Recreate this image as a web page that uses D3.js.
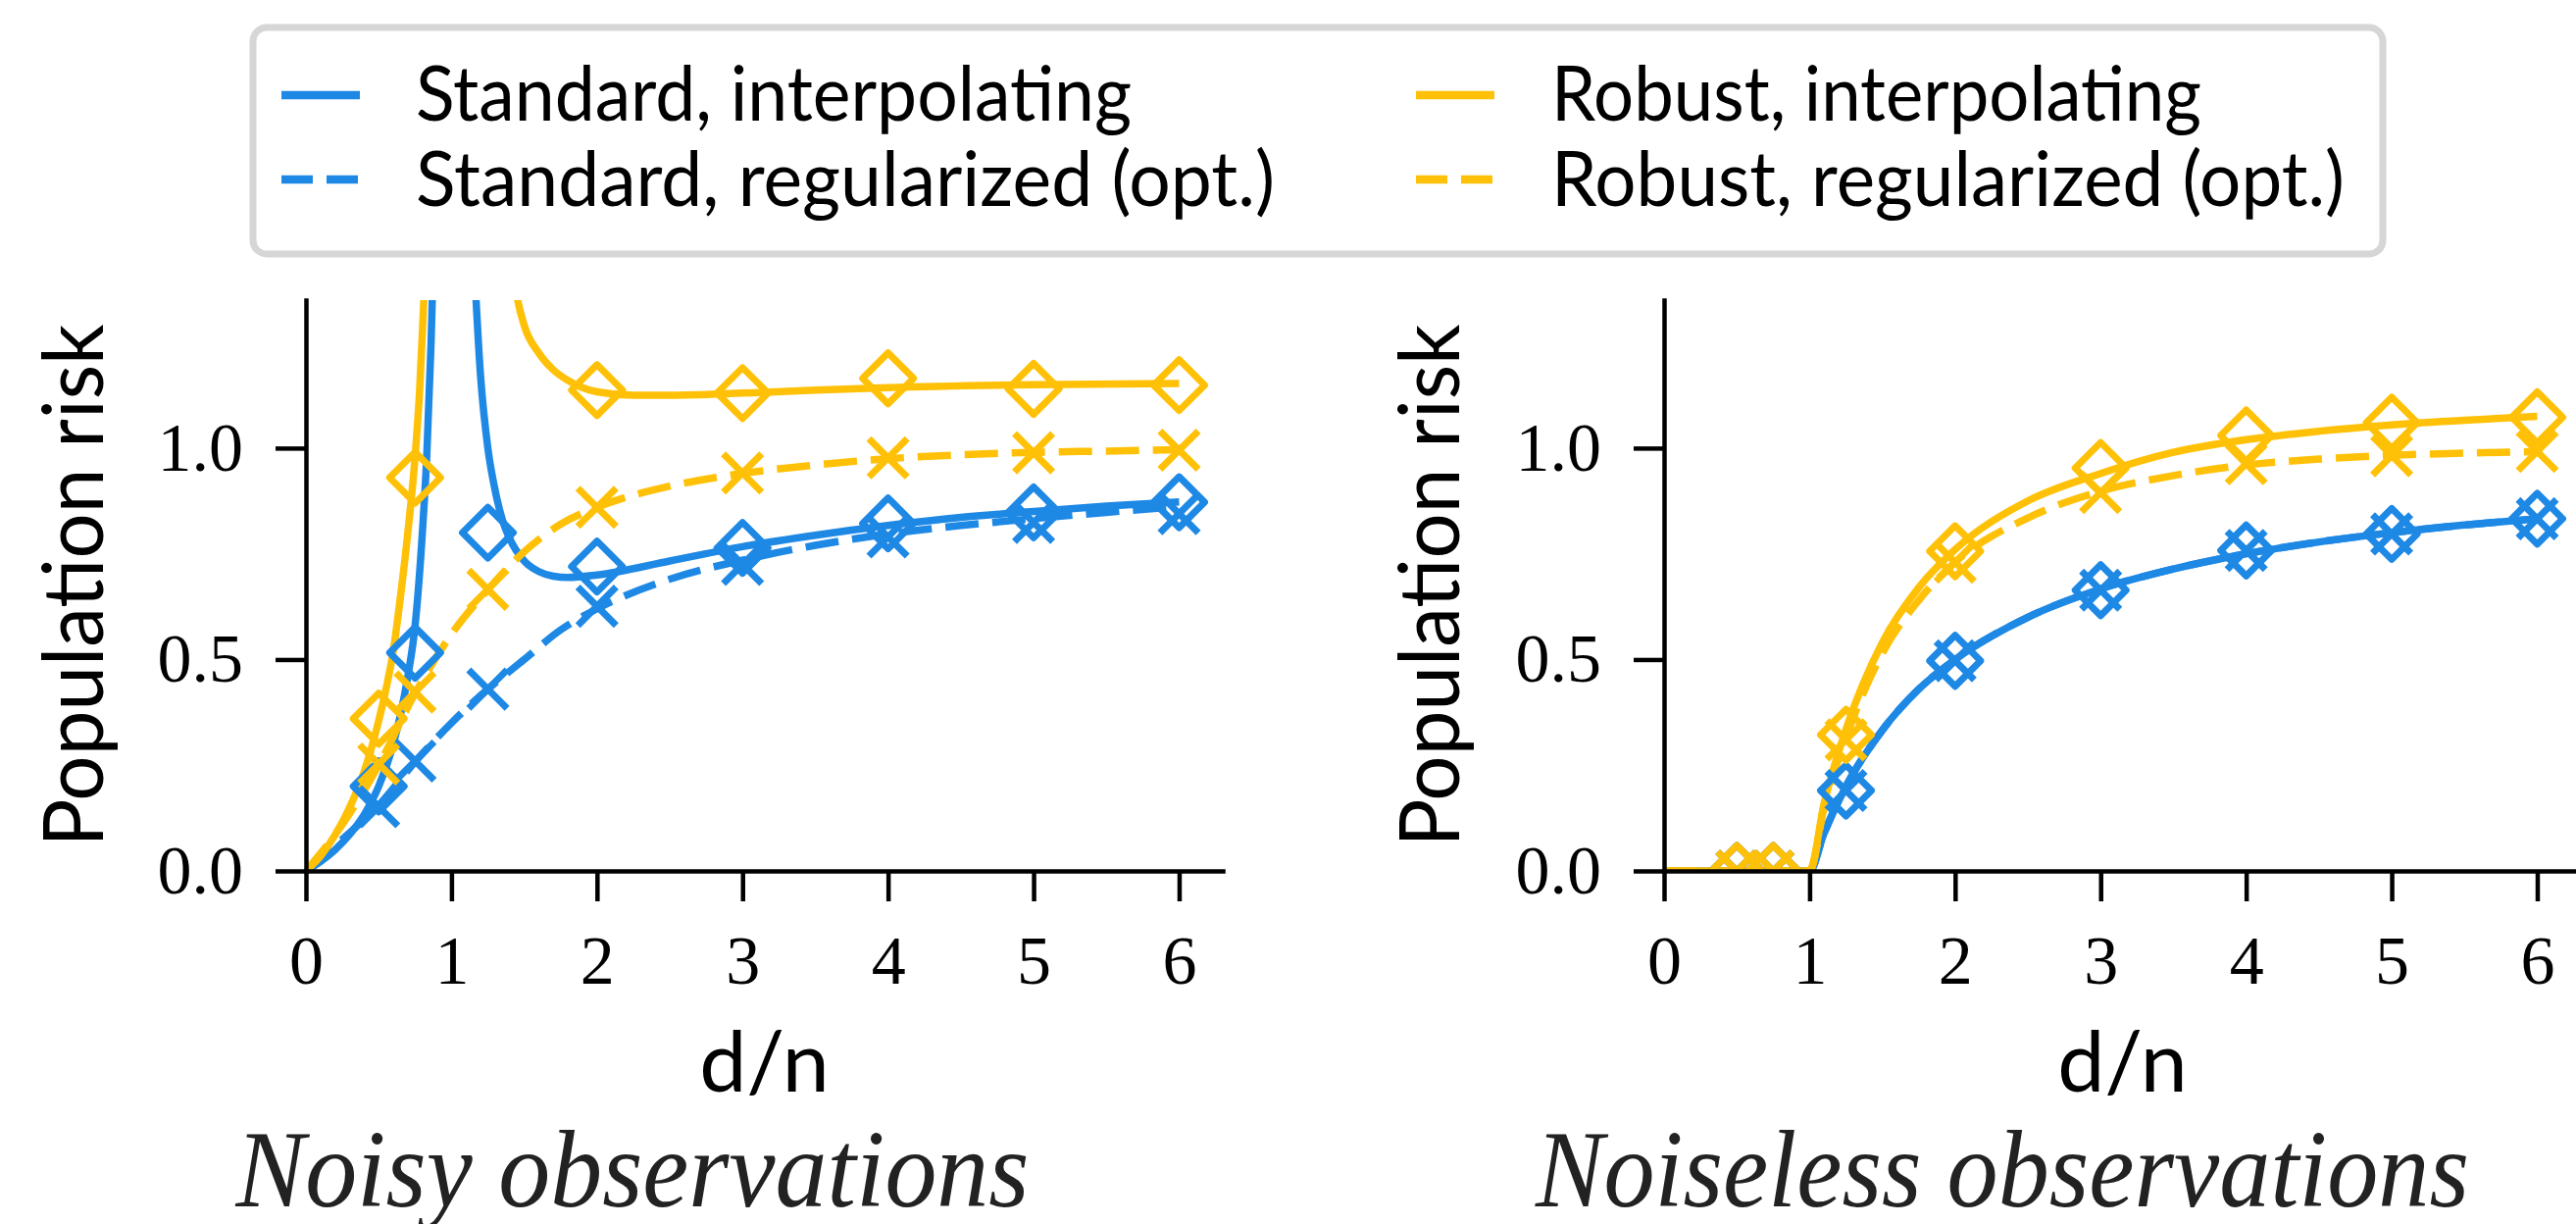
<!DOCTYPE html>
<html>
<head>
<meta charset="utf-8">
<script src="https://cdn.jsdelivr.net/npm/d3@7"></script>
<style>
  body { margin: 0; background: #fff; }
</style>
</head>
<body>
<script>
// ---- data ----
// d/n values where the simulations were run
var simX = [0.5, 0.75, 1.25, 2, 3, 4, 5, 6];

// noisy observations, theory curves
var curveX = [0, 0.25, 0.5, 0.75, 1, 1.25, 1.5, 1.75, 2, 2.5, 3, 3.5, 4, 4.5, 5, 5.5, 6];
var noisyStdReg = [0, 0.075, 0.155, 0.258, 0.35, 0.43, 0.5, 0.57, 0.62, 0.69, 0.735, 0.77, 0.797, 0.817, 0.833, 0.848, 0.862];
var noisyRobReg = [0, 0.11, 0.25, 0.42, 0.56, 0.665, 0.755, 0.82, 0.86, 0.91, 0.94, 0.96, 0.975, 0.984, 0.99, 0.993, 0.996];

// interpolating curves blow up near d/n = 1, so two branches each
var noisyStdInterpLoX = [0, 0.1, 0.2, 0.3, 0.4, 0.5, 0.6, 0.65, 0.7, 0.75, 0.8, 0.83, 0.86, 0.88];
var noisyStdInterpLoY = [0, 0.022, 0.05, 0.086, 0.133, 0.2, 0.3, 0.37, 0.46, 0.58, 0.8, 0.98, 1.25, 1.5];
var noisyStdInterpHiX = [1.14, 1.2, 1.25, 1.3, 1.35, 1.4, 1.5, 1.6, 1.7, 1.8, 2, 2.5, 3, 3.5, 4, 4.5, 5, 5.5, 6];
var noisyStdInterpHiY = [1.55, 1.17, 1.0, 0.9, 0.83, 0.786, 0.733, 0.708, 0.697, 0.694, 0.7, 0.733, 0.767, 0.794, 0.817, 0.836, 0.85, 0.863, 0.873];
var noisyRobInterpLoX = [0, 0.1, 0.2, 0.3, 0.4, 0.5, 0.55, 0.6, 0.65, 0.7, 0.75, 0.78, 0.81, 0.83];
var noisyRobInterpLoY = [0, 0.035, 0.085, 0.15, 0.235, 0.355, 0.43, 0.52, 0.65, 0.8, 0.98, 1.13, 1.35, 1.5];
var noisyRobInterpHiX = [1.4, 1.45, 1.5, 1.6, 1.7, 1.8, 1.9, 2, 2.25, 2.5, 3, 3.5, 4, 5, 6];
var noisyRobInterpHiY = [1.5, 1.36, 1.29, 1.225, 1.185, 1.16, 1.143, 1.133, 1.125, 1.125, 1.13, 1.137, 1.143, 1.15, 1.153];

// noisy observations, simulations
var noisyStdInterpSim = [0.2, 0.516, 0.8, 0.72, 0.764, 0.822, 0.848, 0.872];
var noisyStdRegSim = [0.152, 0.26, 0.43, 0.626, 0.725, 0.79, 0.824, 0.845];
var noisyRobInterpSim = [0.36, 0.93, 1.9, 1.137, 1.13, 1.165, 1.14, 1.149]; // 1.25 is off scale
var noisyRobRegSim = [0.253, 0.423, 0.666, 0.86, 0.941, 0.977, 0.989, 0.995];

// noiseless observations, theory curves
var cleanX = [0, 0.5, 1, 1.1, 1.25, 1.5, 1.75, 2, 2.5, 3, 3.5, 4, 4.5, 5, 5.5, 6];
var cleanStd = [0, 0, 0, 0.09, 0.2, 0.333, 0.43, 0.5, 0.6, 0.667, 0.714, 0.75, 0.778, 0.8, 0.818, 0.833];
var cleanRobInterp = [0, 0, 0, 0.16, 0.335, 0.54, 0.67, 0.76, 0.875, 0.94, 0.99, 1.02, 1.04, 1.055, 1.066, 1.075];
var cleanRobReg = [0, 0, 0, 0.15, 0.315, 0.515, 0.64, 0.73, 0.835, 0.898, 0.935, 0.96, 0.974, 0.983, 0.988, 0.992];

// noiseless observations, simulations
var cleanStdInterpSim = [0, 0, 0.19, 0.497, 0.664, 0.758, 0.797, 0.833];
var cleanStdRegSim = [0, 0, 0.19, 0.497, 0.664, 0.758, 0.797, 0.833];
var cleanRobInterpSim = [0, 0, 0.322, 0.756, 0.953, 1.03, 1.06, 1.073];
var cleanRobRegSim = [0, 0, 0.31, 0.73, 0.895, 0.963, 0.982, 0.992];

var xTicks = [0, 1, 2, 3, 4, 5, 6];
var yTicks = [0, 0.5, 1.0];
var legendNames = ["Standard, interpolating", "Standard, regularized (opt.)",
                   "Robust, interpolating", "Robust, regularized (opt.)"];
var titles = ["Noisy observations", "Noiseless observations"];

// ---- styling ----
var blue = "#1E88E5", amber = "#FFC107";
var sans = "Lato, 'Open Sans', sans-serif";
var serif = "'Liberation Serif', 'DejaVu Serif', serif";
var W = 2627, H = 1248;
var plotW = 935, yTop = 306, yBottom = 888;
var lw = 7.5, mw = 7, dash = "34,14";

var svg = d3.select("body").append("svg")
    .attr("width", W)
    .attr("height", H)
    .style("background-color", "#fff");

// squeeze a text to a given width (the original fonts are narrower)
function squeeze(sel, target) {
    sel.attr("textLength", target).attr("lengthAdjust", "spacingAndGlyphs");
}

var panels = [
    {
        left: 312, labelX: 105, titleX: 645, titleW: 809,
        lines: [
            {xs: noisyStdInterpLoX, ys: noisyStdInterpLoY, color: blue},
            {xs: noisyStdInterpHiX, ys: noisyStdInterpHiY, color: blue},
            {xs: curveX, ys: noisyStdReg, color: blue, dashed: true},
            {xs: noisyRobInterpLoX, ys: noisyRobInterpLoY, color: amber},
            {xs: noisyRobInterpHiX, ys: noisyRobInterpHiY, color: amber},
            {xs: curveX, ys: noisyRobReg, color: amber, dashed: true}
        ],
        sims: [
            {ys: noisyStdInterpSim, color: blue, shape: "D"},
            {ys: noisyStdRegSim, color: blue, shape: "x"},
            {ys: noisyRobInterpSim, color: amber, shape: "D"},
            {ys: noisyRobRegSim, color: amber, shape: "x"}
        ]
    },
    {
        left: 1697, labelX: 1488, titleX: 2042, titleW: 952,
        lines: [
            {xs: cleanX, ys: cleanStd, color: blue},
            {xs: cleanX, ys: cleanStd, color: blue, dashed: true},
            {xs: cleanX, ys: cleanRobInterp, color: amber},
            {xs: cleanX, ys: cleanRobReg, color: amber, dashed: true}
        ],
        sims: [
            {ys: cleanStdInterpSim, color: blue, shape: "D"},
            {ys: cleanStdRegSim, color: blue, shape: "x"},
            {ys: cleanRobInterpSim, color: amber, shape: "D"},
            {ys: cleanRobRegSim, color: amber, shape: "x"}
        ]
    }
];

// marker shapes: a square turned 45deg and an x
var diamond = d3.symbol().type(d3.symbolSquare).size(1350)();
var cross = d3.symbol().type(d3.symbolX).size(1000)();

panels.forEach(function(p, i){
    var x = d3.scaleLinear().domain([0, 6.3]).range([p.left, p.left + plotW]);
    var y = d3.scaleLinear().domain([0, 1.35]).range([yBottom, yTop]);

    svg.append("clipPath")
        .attr("id", "clip" + i)
        .append("rect")
        .attr("x", p.left)
        .attr("y", yTop)
        .attr("width", plotW)
        .attr("height", yBottom - yTop);

    var plot = svg.append("g").attr("clip-path", "url(#clip" + i + ")");

    var line = d3.line()
        .x(function(d){ return x(d[0]); })
        .y(function(d){ return y(d[1]); })
        .curve(d3.curveMonotoneX);

    //theory curves
    p.lines.forEach(function(s){
        plot.append("path")
            .datum(d3.zip(s.xs, s.ys))
            .attr("d", line)
            .attr("fill", "none")
            .attr("stroke", s.color)
            .attr("stroke-width", lw)
            .attr("stroke-dasharray", s.dashed ? dash : null);
    });

    //simulation markers
    p.sims.forEach(function(s){
        plot.selectAll(null)
            .data(d3.zip(simX, s.ys))
            .enter()
            .append("path")
            .attr("transform", function(d){
                return "translate(" + x(d[0]) + "," + y(d[1]) + ")" + (s.shape == "D" ? " rotate(45)" : "");
            })
            .attr("d", s.shape == "D" ? diamond : cross)
            .attr("fill", "none")
            .attr("stroke", s.color)
            .attr("stroke-width", mw)
            .attr("stroke-linejoin", "round");
    });

    //axes
    var xAxis = d3.axisBottom(x)
        .tickValues(xTicks)
        .tickFormat(d3.format("d"))
        .tickSizeInner(31)
        .tickSizeOuter(0)
        .tickPadding(34);
    var yAxis = d3.axisLeft(y)
        .tickValues(yTicks)
        .tickFormat(d3.format(".1f"))
        .tickSizeInner(31)
        .tickSizeOuter(0)
        .tickPadding(33);

    var gx = svg.append("g")
        .attr("transform", "translate(0," + yBottom + ")")
        .call(xAxis);
    var gy = svg.append("g")
        .attr("transform", "translate(" + p.left + ",0)")
        .call(yAxis);

    [gx, gy].forEach(function(g){
        g.attr("font-family", serif).attr("font-size", 70);
        g.select(".domain").attr("stroke", "#000").attr("stroke-width", 4.5).attr("stroke-linecap", "square");
        g.selectAll(".tick line").attr("stroke", "#000").attr("stroke-width", 4.5);
        g.selectAll(".tick text").attr("fill", "#000");
    });

    //axis labels
    var yl = svg.append("text")
        .attr("transform", "translate(" + p.labelX + "," + ((yTop + yBottom) / 2) + ") rotate(-90)")
        .attr("text-anchor", "middle")
        .attr("font-family", sans)
        .attr("font-size", 86)
        .text("Population risk");
    squeeze(yl, 533);

    svg.append("text")
        .attr("x", p.left + plotW / 2)
        .attr("y", 1113)
        .attr("text-anchor", "middle")
        .attr("font-family", sans)
        .attr("font-size", 86)
        .text("d/n");

    var t = svg.append("text")
        .attr("x", p.titleX)
        .attr("y", 1230)
        .attr("text-anchor", "middle")
        .attr("font-family", serif)
        .attr("font-style", "italic")
        .attr("font-size", 112)
        .attr("fill", "#222")
        .text(titles[i]);
    squeeze(t, p.titleW);
});

//legend block
var legend = svg.append("g").attr("class", "legend");
legend.append("rect")
    .attr("x", 258)
    .attr("y", 28)
    .attr("width", 2172)
    .attr("height", 231)
    .attr("rx", 14)
    .attr("fill", "#fff")
    .attr("stroke", "#d6d6d6")
    .attr("stroke-width", 7);

var legendColors = [blue, blue, amber, amber];
var legendDashed = [false, true, false, true];
var legendW = [730, 876, 663, 809];
var colX = [287, 1444], textX = [424, 1582], rowY = [97, 183], rowBase = [123, 210];

legendNames.forEach(function(name, i){
    var c = Math.floor(i / 2), r = i % 2;
    legend.append("line")
        .attr("x1", colX[c])
        .attr("x2", colX[c] + 80)
        .attr("y1", rowY[r])
        .attr("y2", rowY[r])
        .attr("stroke", legendColors[i])
        .attr("stroke-width", lw + 1)
        .attr("stroke-dasharray", legendDashed[i] ? "32,14" : null);
    var t = legend.append("text")
        .attr("x", textX[c])
        .attr("y", rowBase[r])
        .attr("font-family", sans)
        .attr("font-size", 78)
        .text(name);
    squeeze(t, legendW[i]);
});
</script>
</body>
</html>
